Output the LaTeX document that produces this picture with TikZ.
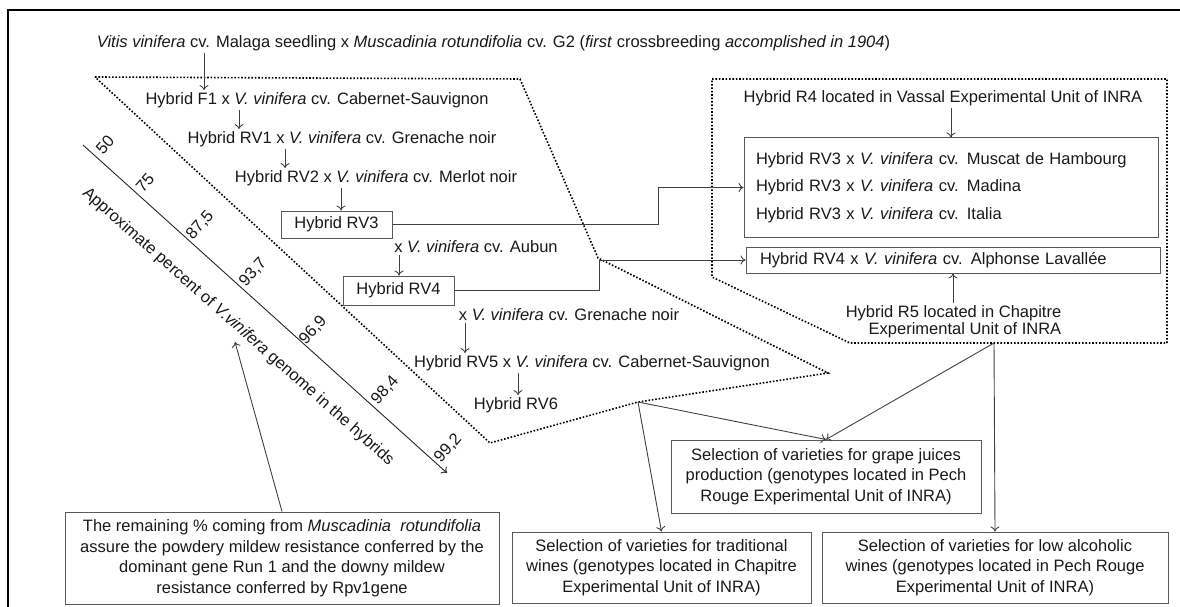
\documentclass[tikz,border=0pt]{standalone}
\usepackage{fontspec}
\setmainfont{Liberation Sans}
\usetikzlibrary{arrows.meta}
\tikzstyle{hybridtext} = [inner sep=2pt, text=black!90]
\tikzstyle{hybridbox} = [rectangle, draw=black!65, line width=1pt, text=black!90, inner sep=0pt]
\tikzstyle{selectionbox} = [rectangle, draw=black!65, line width=1pt, align=center, text=black!90, inner sep=0pt]
\tikzstyle{zone} = [line width=1.6pt, dash pattern=on 1.6pt off 1.8pt]
\tikzstyle{arrow} = [-{To[length=5pt,width=9pt]}, draw=black!75, line width=0.9pt]
\tikzstyle{pct} = [rotate=48, inner sep=1pt, text=black!90]

\begin{document}
\begin{tikzpicture}[x=1pt, y=-1pt, font=\fontsize{16.5}{20.5}\selectfont]
        \useasboundingbox (0,0) rectangle (1180,607);
        \draw [line width=2pt] (8,10) rectangle (1200,630);

        \node (parents) [hybridtext] at (493.5,43) {\textit{Vitis vinifera} cv. Malaga seedling x \textit{Muscadinia rotundifolia} cv. G2 (\textit{first} crossbreeding \textit{accomplished in 1904})};

        % backcrosses inside the left zone
        \node (hybridf1) [hybridtext] at (317,100) {Hybrid F1 x \textit{V. vinifera} cv. Cabernet-Sauvignon};
        \node (hybridrv1) [hybridtext] at (342,139) {Hybrid RV1 x \textit{V. vinifera} cv. Grenache noir};
        \node (hybridrv2) [hybridtext] at (376,178) {Hybrid RV2 x \textit{V. vinifera} cv. Merlot noir};
        \node (hybridrv3) [hybridbox, minimum width=111pt, minimum height=27pt] at (336.5,224.5) {Hybrid RV3};
        \node (aubun) [hybridtext] at (476,247) {x \textit{V. vinifera} cv. Aubun};
        \node (hybridrv4) [hybridbox, minimum width=111pt, minimum height=29pt] at (398.5,290.5) {Hybrid RV4};
        \node (grenache) [hybridtext] at (569,315) {x \textit{V. vinifera} cv. Grenache noir};
        \node (hybridrv5) [hybridtext] at (592,363) {Hybrid RV5 x \textit{V. vinifera} cv. Cabernet-Sauvignon};
        \node (hybridrv6) [hybridtext] at (516,405) {Hybrid RV6};

        % right zone
        \node (vassal) [hybridtext] at (943,98) {Hybrid R4 located in Vassal Experimental Unit of INRA};
        \node (muscatcrosses) [hybridbox, minimum width=414pt, minimum height=99pt, text width=390pt, align=left] at (951,187.5) {Hybrid RV3 x \textit{V. vinifera} cv. Muscat de Hambourg\\[7pt]Hybrid RV3 x \textit{V. vinifera} cv. Madina\\[7pt]Hybrid RV3 x \textit{V. vinifera} cv. Italia};
        \node (lavalleecross) [hybridbox, minimum width=414pt, minimum height=26pt, text width=386pt, align=left] at (953,260) {Hybrid RV4 x \textit{V. vinifera} cv. Alphonse Lavallée};
        \node (chapitre) [hybridtext, align=right, font=\fontsize{16.5}{17}\selectfont] at (953.5,321.5) {Hybrid R5 located in Chapitre\\Experimental Unit of INRA};

        % selections
        \node (grapejuices) [selectionbox, minimum width=310pt, minimum height=73pt] at (826,476.5) {Selection of varieties for grape juices\\production (genotypes located in Pech\\Rouge Experimental Unit of INRA)};
        \node (traditional) [selectionbox, minimum width=299pt, minimum height=71pt] at (661.5,567.5) {Selection of varieties for traditional\\wines (genotypes located in Chapitre\\Experimental Unit of INRA)};
        \node (lowalcohol) [selectionbox, minimum width=346pt, minimum height=71pt] at (995,567.5) {Selection of varieties for low alcoholic\\wines (genotypes located in Pech Rouge\\Experimental Unit of INRA)};
        \node (remaining) [selectionbox, minimum width=434pt, minimum height=92pt] at (282,558) {The remaining \% coming from \textit{Muscadinia\ \ rotundifolia}\\assure the powdery mildew resistance conferred by the\\dominant gene Run 1 and the downy mildew\\resistance conferred by Rpv1gene};

        % percent axis
        \coordinate (axisstart) at (83,145);
        \coordinate (axisend) at (447,473);
        \draw [arrow, draw=black!85] (axisstart) -- (axisend);
        \node (percentlabel) [hybridtext, rotate=-41.5] at (238,327) {Approximate percent of \textit{V.vinifera} genome in the hybrids};
        \node (pct50) [pct] at (105,145) {50};
        \node (pct75) [pct] at (145,183) {75};
        \node (pct875) [pct] at (200,225) {87,5};
        \node (pct937) [pct] at (253,272) {93,7};
        \node (pct969) [pct] at (313,330) {96,9};
        \node (pct984) [pct] at (385,390) {98,4};
        \node (pct992) [pct] at (448,448) {99,2};

        % dotted zones
        \draw [zone] (95,77) -- (520,79) -- (598,258) -- (828,373) -- (638,402) -- (490,443) -- cycle;
        \draw [zone] (712,79) -- (1167,79) -- (1167,343) -- (850,343) -- (712,277) -- cycle;
        \coordinate (rv6join) at (638,402);
        \coordinate (r5join) at (994,343);
        \coordinate (labeltip) at (235,342);

        \draw [arrow] (parents.south -| 204,0) -- (hybridf1.north -| 204,0);
        \draw [arrow] (hybridf1.south -| 239,0) -- (hybridrv1.north -| 239,0);
        \draw [arrow] (hybridrv1.south -| 285,0) -- (hybridrv2.north -| 285,0);
        \draw [arrow] (hybridrv2.south -| 341,0) -- (hybridrv3.north -| 341,0);
        \draw [arrow] (aubun.south -| 399,0) -- (hybridrv4.north -| 399,0);
        \draw [arrow] (grenache.south -| 465,0) -- (hybridrv5.north -| 465,0);
        \draw [arrow] (hybridrv5.south -| 518,0) -- (hybridrv6.north -| 518,0);

        \draw [arrow] (hybridrv3.east) -- ++(266,0) |- (muscatcrosses.west);
        \draw [arrow] (hybridrv4.east) -- ++(145,0) |- (lavalleecross.west);
        \draw [arrow] (vassal.south -| muscatcrosses.north) -- (muscatcrosses.north);
        \draw [arrow] (chapitre.north -| lavalleecross.south) -- (lavalleecross.south);

        \draw [arrow] (rv6join) -- (grapejuices.north);
        \draw [arrow] (rv6join) -- (traditional.north);
        \draw [arrow] (r5join) -- (grapejuices.north);
        \draw [arrow] (r5join) -- (lowalcohol.north);
        \draw [arrow] (remaining.north) -- (labeltip);
\end{tikzpicture}
\end{document}
